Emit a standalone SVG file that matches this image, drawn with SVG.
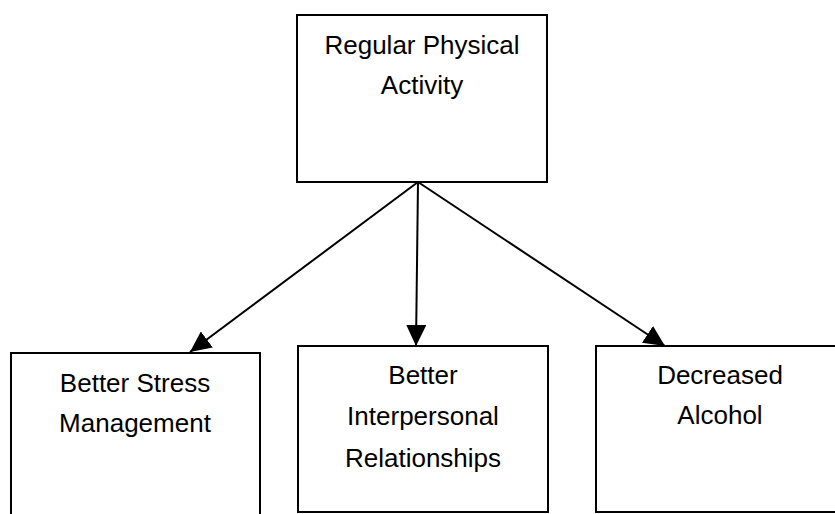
<svg xmlns="http://www.w3.org/2000/svg" width="835" height="514" viewBox="0 0 835 514">
<style>
.box{fill:#fff;stroke:#000;stroke-width:2}
.lbl{font-family:"Liberation Sans",Arial,sans-serif;font-size:26px;fill:#000;text-anchor:middle}
.conn{stroke:#000;stroke-width:2;fill:none}
</style>
<defs>
<marker id="ah" markerWidth="21" markerHeight="20" refX="21" refY="10" orient="auto" markerUnits="userSpaceOnUse" viewBox="0 0 21 20">
<path d="M0,0 L21,10 L0,20 z" fill="#000"/>
</marker>
</defs>
<rect width="835" height="514" fill="#fff"/>
<g id="top">
<rect class="box" x="297" y="15" width="250" height="167"/>
<text class="lbl" x="422" y="54">Regular Physical</text>
<text class="lbl" x="422" y="94">Activity</text>
</g>
<g id="stress">
<rect class="box" x="11" y="353" width="249" height="175"/>
<text class="lbl" x="135" y="392">Better Stress</text>
<text class="lbl" x="135" y="432">Management</text>
</g>
<g id="interpersonal">
<rect class="box" x="298" y="346" width="250" height="166"/>
<text class="lbl" x="423" y="384">Better</text>
<text class="lbl" x="423" y="425">Interpersonal</text>
<text class="lbl" x="423" y="467">Relationships</text>
</g>
<g id="alcohol">
<rect class="box" x="596" y="346" width="260" height="166"/>
<text class="lbl" x="720" y="384">Decreased</text>
<text class="lbl" x="720" y="424">Alcohol</text>
</g>
<g id="connectors">
<line class="conn" x1="418" y1="182" x2="190" y2="352" marker-end="url(#ah)"/>
<line class="conn" x1="418" y1="182" x2="416" y2="346" marker-end="url(#ah)"/>
<line class="conn" x1="418" y1="182" x2="665" y2="346" marker-end="url(#ah)"/>
</g>
</svg>
